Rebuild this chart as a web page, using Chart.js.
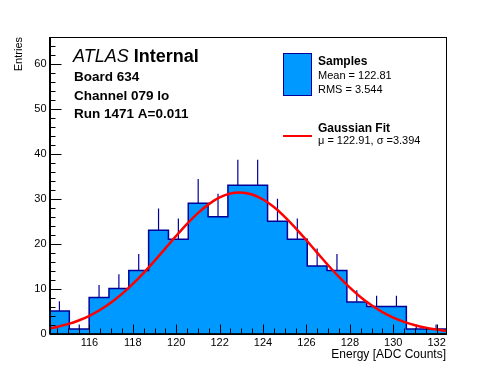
<!DOCTYPE html>
<html>
<head>
<meta charset="utf-8">
<script src="https://cdn.jsdelivr.net/npm/chart.js@4"></script>
<style>
  body { margin: 0; background: #ffffff; }
  #wrap { width: 496px; height: 372px; }
</style>
</head>
<body>
<div id="wrap"><canvas id="histChart" width="496" height="372"></canvas></div>
<script>
// Histogram range (ADC counts) and bin contents
const binLow = 114.16;
const binHigh = 132.43;
const counts = [5, 1, 8, 10, 14, 23, 21, 29, 26, 33, 33, 25, 21, 15, 14, 7, 6, 6, 1, 1];
// upward error bar lengths
const errors = [2.2, 1.0, 2.8, 3.2, 3.7, 4.8, 4.6, 5.4, 5.1, 5.7, 5.7, 5.0, 4.6, 3.9, 3.7, 2.6, 2.4, 2.4, 1.0, 1.0];

// Gaussian fit curve
const fitX = [114.16, 114.5, 115, 115.5, 116, 116.5, 117, 117.5, 118, 118.5, 119, 119.5, 120, 120.5,
              121, 121.5, 122, 122.5, 122.91, 123.5, 124, 124.5, 125, 125.5, 126, 126.5, 127, 127.5,
              128, 128.5, 129, 129.5, 130, 130.5, 131, 131.5, 132, 132.43];
const fitY = [1.13, 1.46, 2.08, 2.90, 3.95, 5.28, 6.90, 8.81, 11.03, 13.50, 16.17, 18.96, 21.74, 24.40,
              26.80, 28.80, 30.29, 31.17, 31.40, 30.93, 29.82, 28.14, 25.98, 23.47, 20.75, 17.95, 15.19, 12.58,
              10.20, 8.09, 6.28, 4.77, 3.54, 2.58, 1.83, 1.28, 0.87, 0.61];

const yMax = 66;
const FONT = "'Liberation Sans', Arial, Helvetica, sans-serif";

const binWidth = (binHigh - binLow) / counts.length;

// stepped outline: one point per left bin edge, plus the closing right edge
const histPoints = counts.map((c, i) => ({ x: binLow + i * binWidth, y: c }));
histPoints.push({ x: binHigh, y: counts[counts.length - 1] });

// error bars as short vertical segments separated by gaps
const errPoints = [];
counts.forEach((c, i) => {
    const xc = binLow + (i + 0.5) * binWidth;
    errPoints.push({ x: xc, y: c }, { x: xc, y: c + errors[i] }, { x: xc, y: null });
});

const fitPoints = fitX.map((x, i) => ({ x: x, y: fitY[i] }));

// frame, inner ticks, text block and legend (ROOT style)
const rootStyle = {
    id: 'rootStyle',
    afterDraw(chart) {
        const ctx = chart.ctx;
        const a = chart.chartArea;
        const xs = chart.scales.x;
        const ys = chart.scales.y;
        ctx.save();
        ctx.strokeStyle = '#000000';
        ctx.lineWidth = 1;
        ctx.strokeRect(Math.round(a.left) + 0.5, Math.round(a.top) + 0.5,
                       Math.round(a.right - a.left) - 1, Math.round(a.bottom - a.top));

        // x ticks every 0.5, major every 2
        ctx.beginPath();
        for (let v = Math.ceil(binLow * 2) / 2; v <= binHigh; v += 0.5) {
            const px = Math.round(xs.getPixelForValue(v)) + 0.5;
            const len = (v % 2 === 0) ? 9 : 5;
            ctx.moveTo(px, a.bottom);
            ctx.lineTo(px, a.bottom - len);
        }
        // y ticks every 2, major every 10
        for (let v = 0; v <= yMax; v += 2) {
            const py = Math.round(ys.getPixelForValue(v)) + 0.5;
            const len = (v % 10 === 0) ? 12 : 6;
            ctx.moveTo(a.left, py);
            ctx.lineTo(a.left + len, py);
        }
        ctx.stroke();

        // label block
        ctx.fillStyle = '#000000';
        ctx.textBaseline = 'alphabetic';
        ctx.textAlign = 'left';
        ctx.font = 'italic 18px ' + FONT;
        ctx.fillText('ATLAS', 73, 62);
        const w = ctx.measureText('ATLAS ').width;
        ctx.font = 'bold 18px ' + FONT;
        ctx.fillText('Internal', 73 + w, 62);
        ctx.font = 'bold 13.5px ' + FONT;
        ctx.fillText('Board 634', 74, 81);
        ctx.fillText('Channel 079 lo', 74, 100);
        ctx.fillText('Run 1471 A=0.011', 74, 118);

        // legend
        ctx.fillStyle = '#0099ff';
        ctx.fillRect(283, 53, 29, 43);
        ctx.strokeStyle = '#000099';
        ctx.strokeRect(283.5, 53.5, 28, 42);
        ctx.strokeStyle = '#ff0000';
        ctx.lineWidth = 2;
        ctx.beginPath();
        ctx.moveTo(283, 136);
        ctx.lineTo(312, 136);
        ctx.stroke();

        ctx.fillStyle = '#000000';
        ctx.font = 'bold 12px ' + FONT;
        ctx.fillText('Samples', 318, 65);
        ctx.fillText('Gaussian Fit', 318, 132);
        ctx.font = '11px ' + FONT;
        ctx.fillText('Mean = 122.81', 318, 79);
        ctx.fillText('RMS = 3.544', 318, 93);
        ctx.fillText('\u03bc = 122.91, \u03c3 =3.394', 318, 144);
        ctx.restore();
    }
};

new Chart(document.getElementById('histChart'), {
    type: 'scatter',
    data: {
        datasets: [
            {
                label: 'Gaussian Fit',
                data: fitPoints,
                showLine: true,
                borderColor: '#ff0000',
                borderWidth: 2.5,
                pointRadius: 0,
                cubicInterpolationMode: 'monotone',
                order: 0
            },
            {
                label: 'Errors',
                data: errPoints,
                showLine: true,
                spanGaps: false,
                borderColor: '#000099',
                borderWidth: 1.2,
                pointRadius: 0,
                order: 1
            },
            {
                label: 'Samples',
                data: histPoints,
                showLine: true,
                stepped: 'before',
                fill: 'origin',
                backgroundColor: '#0099ff',
                borderColor: '#000099',
                borderWidth: 1.5,
                pointRadius: 0,
                order: 2
            }
        ]
    },
    options: {
        responsive: false,
        animation: false,
        layout: { padding: { left: 0, top: 37, right: 50, bottom: 0 } },
        plugins: {
            legend: { display: false },
            tooltip: { enabled: false }
        },
        scales: {
            x: {
                type: 'linear',
                min: binLow,
                max: binHigh,
                grid: { display: false, drawTicks: false },
                border: { display: true, color: '#000000', width: 1 },
                ticks: {
                    stepSize: 2,
                    includeBounds: false,
                    padding: 3,
                    color: '#000000',
                    font: { family: FONT, size: 11 }
                },
                title: {
                    display: true,
                    text: 'Energy [ADC Counts]',
                    align: 'end',
                    color: '#000000',
                    font: { family: FONT, size: 12 },
                    padding: { top: 0, bottom: 10 }
                },
                afterFit: s => { s.height = 38.5; }
            },
            y: {
                min: 0,
                max: yMax,
                grid: { display: false, drawTicks: false },
                border: { display: true, color: '#000000', width: 1 },
                ticks: {
                    stepSize: 10,
                    includeBounds: false,
                    padding: 3,
                    color: '#000000',
                    font: { family: FONT, size: 11 }
                },
                title: {
                    display: true,
                    text: 'Entries',
                    align: 'end',
                    color: '#000000',
                    font: { family: FONT, size: 11 },
                    padding: { top: 12, bottom: 0 }
                },
                afterFit: s => { s.width = 49.5; }
            }
        }
    },
    plugins: [rootStyle]
});
</script>
</body>
</html>
